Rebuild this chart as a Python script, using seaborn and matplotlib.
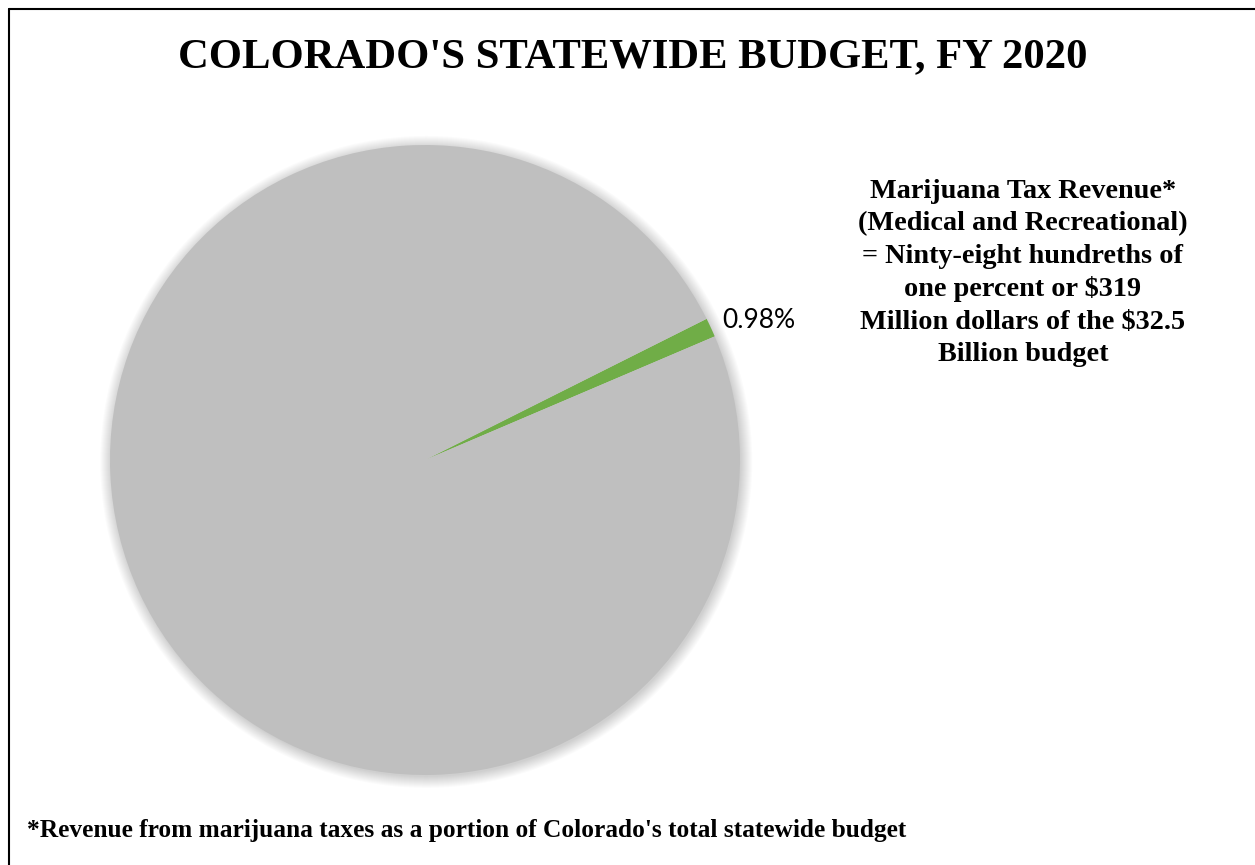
import numpy as np
import matplotlib
matplotlib.use("Agg")
import matplotlib.pyplot as plt
import seaborn as sns
from matplotlib.patches import Circle
from matplotlib.lines import Line2D

# Data
categories = ["Marijuana Tax Revenue", "Rest of Statewide Budget"]
shares = [0.98, 99.02]
label_texts = ["0.98%", ""]
colors = ["#70AD47", "#BFBFBF"]

title = "COLORADO'S STATEWIDE BUDGET, FY 2020"
note_lines = ["Marijuana Tax Revenue*",
              "(Medical and Recreational)",
              "= Ninty-eight hundreths of",
              "one percent or $319",
              "Million dollars of the $32.5",
              "Billion budget"]
footnote = "*Revenue from marijuana taxes as a portion of Colorado's total statewide budget"

sns.set_theme(style="white")
plt.rcParams['font.family'] = ['DejaVu Sans']
plt.rcParams['text.color'] = 'black'

fig = plt.figure(figsize=(12.55, 8.65), dpi=100)
W, H = 1255, 865
cx, cy, r = 425, 460, 315
ax = fig.add_axes([(cx - r) / W, (H - cy - r) / H, 2 * r / W, 2 * r / H])

# soft shadow
for a in np.linspace(0.0, 1.0, 12):
    rr = 1.0 + 0.035 * (1 - a)
    ax.add_patch(Circle((0.004, -0.006), rr, color="#000000", alpha=0.016, lw=0,
                        zorder=0, clip_on=False))

wedges, _ = ax.pie(shares, colors=colors, startangle=23.1, counterclock=True,
                   wedgeprops=dict(linewidth=0))
for w in wedges:
    w.set_zorder(2)

for w, t in zip(wedges, label_texts):
    if not t:
        continue
    mid = np.deg2rad((w.theta1 + w.theta2) / 2)
    ax.text(1.04 * np.cos(mid), 1.04 * np.sin(mid) + 0.005, t, ha="left", va="center",
            fontsize=19, family=["Lato", "DejaVu Sans"], color="black")

ax.set_xlim(-1, 1)
ax.set_ylim(-1, 1)
ax.set_aspect("equal")
ax.axis("off")

fig.text(633 / W, 1 - 57 / H, title, ha="center", va="center", fontsize=30.7,
         fontweight="bold", family=["Liberation Serif"], color="black")

fig.text(1023 / W, 1 - 273 / H, "\n".join(note_lines), ha="center", va="center",
         fontsize=20.3, fontweight="bold", family=["Liberation Serif"], linespacing=1.395,
         color="black")

fig.text(27 / W, 1 - 830 / H, footnote, ha="left", va="center", fontsize=18.3,
         fontweight="bold", family=["Liberation Serif"], color="black")

# frame lines (top and left)
fig.add_artist(Line2D([9 / W, 1.0], [1 - 9 / H, 1 - 9 / H], color="black", lw=1.5,
                      transform=fig.transFigure))
fig.add_artist(Line2D([9 / W, 9 / W], [0.0, 1 - 9 / H], color="black", lw=1.5,
                      transform=fig.transFigure))

fig.savefig("out.png", dpi=100, facecolor="white")
